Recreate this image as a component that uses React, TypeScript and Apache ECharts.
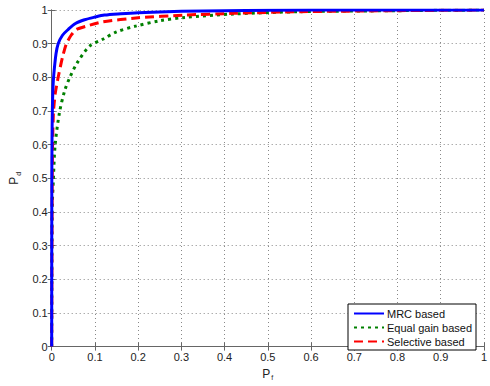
import React, { useEffect, useRef } from "react";
import * as echarts from "echarts";

const ticks = [0, 0.1, 0.2, 0.3, 0.4, 0.5, 0.6, 0.7, 0.8, 0.9, 1];
const seriesNames = ["MRC based", "Equal gain based", "Selective based"];

const mrcPf = [0, 0.0003, 0.0008, 0.0015, 0.003, 0.005, 0.01, 0.015, 0.025, 0.038, 0.055, 0.076, 0.1, 0.122, 0.16, 0.2, 0.3, 0.4, 0.5, 0.7, 1];
const mrcPd = [0, 0.5, 0.62, 0.7, 0.77, 0.81, 0.87, 0.9, 0.925, 0.942, 0.96, 0.971, 0.979, 0.985, 0.989, 0.992, 0.996, 0.998, 0.999, 1, 1];

const egPf = [0, 0.001, 0.004, 0.008, 0.018, 0.03, 0.042, 0.06, 0.088, 0.118, 0.15, 0.194, 0.25, 0.308, 0.42, 0.575, 0.8, 1];
const egPd = [0, 0.4, 0.5, 0.6, 0.695, 0.76, 0.8, 0.845, 0.893, 0.913, 0.935, 0.952, 0.968, 0.978, 0.988, 0.995, 0.998, 1];

const selPf = [0, 0.001, 0.002, 0.004, 0.008, 0.015, 0.025, 0.034, 0.045, 0.057, 0.08, 0.118, 0.2, 0.308, 0.42, 0.575, 0.8, 1];
const selPd = [0, 0.45, 0.6, 0.695, 0.75, 0.8, 0.86, 0.9, 0.925, 0.942, 0.952, 0.965, 0.977, 0.985, 0.99, 0.995, 0.998, 1];

const zip = (a: number[], b: number[]) => a.map((v, i) => [v, b[i]]);

const FONT = "Liberation Sans, Arial, sans-serif";

export default function App() {
  const ref = useRef<HTMLDivElement>(null);
  useEffect(() => {
    if (!ref.current) return;
    const chart = echarts.init(ref.current, undefined, { renderer: "svg" });
    const axisCommon = {
      type: "value" as const,
      min: ticks[0],
      max: ticks[ticks.length - 1],
      interval: 0.1,
      axisLine: { show: true, lineStyle: { color: "#666", width: 1 } },
      axisTick: { show: true, inside: true, length: 4, lineStyle: { color: "#666" } },
    };
    chart.setOption({
      animation: false,
      backgroundColor: "#fff",
      grid: { left: 48, right: 4, top: 10, bottom: 31, containLabel: false },
      xAxis: [
        {
          ...axisCommon,
          position: "bottom",
          axisLabel: {
            color: "#222",
            fontSize: 11,
            fontFamily: FONT,
            margin: 5,
            formatter: (v: number) => String(Math.round(v * 10) / 10),
          },
          splitLine: { show: true, lineStyle: { color: "#888", type: [1, 3], width: 1 } },
          name: "{p|P}{s|f}",
          nameLocation: "middle",
          nameGap: 18,
          nameTextStyle: {
            rich: {
              p: { fontSize: 12, fontFamily: FONT, color: "#222" },
              s: { fontSize: 7, fontFamily: FONT, color: "#222", padding: [8, 0, 0, 1] },
            },
          },
        },
        {
          ...axisCommon,
          position: "top",
          axisLabel: { show: false },
          splitLine: { show: false },
        },
      ],
      yAxis: [
        {
          ...axisCommon,
          position: "left",
          axisLabel: {
            color: "#222",
            fontSize: 11,
            fontFamily: FONT,
            margin: 4,
            formatter: (v: number) => String(Math.round(v * 10) / 10),
          },
          splitLine: { show: true, lineStyle: { color: "#888", type: [1, 3], width: 1 } },
          name: "{p|P}{s|d}",
          nameLocation: "middle",
          nameRotate: 90,
          nameGap: 28,
          nameTextStyle: {
            rich: {
              p: { fontSize: 12, fontFamily: FONT, color: "#222" },
              s: { fontSize: 7, fontFamily: FONT, color: "#222", padding: [8, 0, 0, 1] },
            },
          },
        },
        {
          ...axisCommon,
          position: "right",
          axisLabel: { show: false },
          splitLine: { show: false },
        },
      ],
      legend: {
        data: seriesNames,
        orient: "vertical",
        left: 348,
        top: 304,
        padding: [4, 4, 3, 5],
        itemGap: 3,
        itemWidth: 30,
        itemHeight: 11,
        backgroundColor: "#fff",
        borderColor: "#000",
        borderWidth: 1,
        borderRadius: 0,
        itemStyle: { opacity: 0 },
        textStyle: { fontSize: 11, fontFamily: FONT, color: "#111", padding: [0, 0, 0, -2] },
      },
      series: [
        {
          name: seriesNames[0],
          type: "line",
          data: zip(mrcPf, mrcPd),
          symbol: "none",
          smooth: 0.3,
          lineStyle: { color: "#0000ff", width: 3 },
          itemStyle: { color: "#0000ff" },
          z: 3,
        },
        {
          name: seriesNames[1],
          type: "line",
          data: zip(egPf, egPd),
          symbol: "none",
          smooth: 0.3,
          lineStyle: { color: "#008000", width: 3, type: [3, 4] },
          itemStyle: { color: "#008000" },
          z: 1,
        },
        {
          name: seriesNames[2],
          type: "line",
          data: zip(selPf, selPd),
          symbol: "none",
          smooth: 0.2,
          lineStyle: { color: "#ff0000", width: 3, type: [9, 5] },
          itemStyle: { color: "#ff0000" },
          z: 2,
        },
      ],
    });
    return () => chart.dispose();
  }, []);
  return <div ref={ref} style={{ width: 490, height: 386, position: "absolute", left: 0, top: 0 }} />;
}
